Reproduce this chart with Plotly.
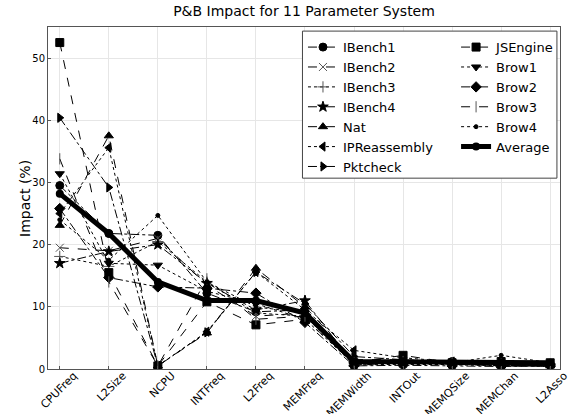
import plotly.graph_objects as go

params = ["CPUFreq", "L2Size", "NCPU", "INTFreq", "L2Freq", "MEMFreq",
          "MEMWidth", "INTOut", "MEMQSize", "MEMChan", "L2Asso"]

ibench1 = [29.5, 21.8, 21.5, 12.2, 9.2, 9.5, 0.8, 1.0, 1.2, 0.8, 0.6]
ibench2 = [19.5, 19.0, 21.0, 13.5, 8.5, 9.0, 0.5, 1.2, 0.8, 0.5, 0.5]
ibench3 = [18.1, 16.5, 20.5, 14.0, 9.0, 8.5, 0.6, 0.8, 0.7, 0.6, 0.4]
ibench4 = [17.0, 18.9, 20.0, 13.8, 9.5, 11.0, 0.7, 1.0, 0.8, 0.7, 0.5]
nat = [23.1, 37.5, 0.5, 5.8, 16.2, 10.0, 1.5, 1.5, 1.0, 0.5, 0.5]
ipreassembly = [25.0, 35.6, 0.5, 6.0, 15.6, 9.5, 3.0, 1.8, 1.2, 0.6, 0.5]
pktcheck = [40.4, 29.2, 0.5, 5.9, 15.6, 10.5, 2.0, 1.5, 1.0, 0.5, 0.5]
jsengine = [52.5, 15.5, 0.5, 10.8, 7.1, 8.0, 1.0, 2.2, 1.0, 1.2, 1.0]
brow1 = [31.4, 17.0, 16.7, 12.5, 10.5, 8.0, 0.8, 0.8, 0.7, 0.6, 0.6]
brow2 = [25.8, 14.7, 13.2, 13.0, 12.2, 7.5, 0.5, 0.6, 0.5, 0.4, 0.5]
brow3 = [33.8, 14.0, 0.5, 14.5, 8.0, 8.5, 1.0, 1.2, 1.0, 0.8, 0.6]
brow4 = [24.0, 17.5, 24.7, 14.0, 10.0, 9.0, 1.0, 1.5, 1.0, 2.2, 1.0]
average = [28.2, 21.8, 14.0, 11.0, 11.0, 9.0, 1.2, 1.1, 1.0, 1.0, 1.0]

# name, values, marker symbol, marker size, dash, legend column
series = [
    ("IBench1", ibench1, "circle", 8, "dashdot", "legend"),
    ("IBench2", ibench2, "x-thin", 8, "dash", "legend"),
    ("IBench3", ibench3, "cross-thin", 8, "dot", "legend"),
    ("IBench4", ibench4, "star", 8, "dashdot", "legend"),
    ("Nat", nat, "triangle-up", 8, "dash", "legend"),
    ("IPReassembly", ipreassembly, "triangle-left", 8, "dot", "legend"),
    ("Pktcheck", pktcheck, "triangle-right", 8, "dashdot", "legend"),
    ("JSEngine", jsengine, "square", 8, "dash", "legend2"),
    ("Brow1", brow1, "triangle-down", 8, "dot", "legend2"),
    ("Brow2", brow2, "diamond", 8, "dashdot", "legend2"),
    ("Brow3", brow3, "line-ns", 8, "dash", "legend2"),
    ("Brow4", brow4, "circle", 4, "dot", "legend2"),
]

fig = go.Figure()
for name, vals, sym, size, dash, leg in series:
    thin = sym.endswith("-thin") or sym.startswith("line")
    fig.add_trace(go.Scatter(
        x=params, y=vals, name=name, mode="lines+markers",
        line=dict(color="black", width=1, dash=dash),
        marker=dict(symbol=sym, size=size, color="black",
                    line=dict(color="#555555" if thin else "black", width=1)),
        legend=leg,
    ))

fig.add_trace(go.Scatter(
    x=params, y=average, name="Average", mode="lines+markers",
    line=dict(color="black", width=5),
    marker=dict(symbol="circle", size=8, color="black"),
    legend="legend2",
))

leg_common = dict(yanchor="top", xanchor="left", bgcolor="rgba(0,0,0,0)",
                  borderwidth=0, font=dict(size=13), itemwidth=30,
                  orientation="v")

fig.update_layout(
    width=568, height=414,
    margin=dict(l=48, r=8, t=27, b=45),
    paper_bgcolor="white", plot_bgcolor="white",
    font=dict(family="DejaVu Sans", color="black"),
    title=dict(text="P&B Impact for 11 Parameter System", x=0.5, xref="paper",
               xanchor="center", y=0.972, yanchor="middle", font=dict(size=14)),
    showlegend=True,
    legend=dict(x=0.498, y=0.985, **leg_common),
    legend2=dict(x=0.797, y=0.985, **leg_common),
    shapes=[dict(type="rect", xref="paper", yref="paper",
                 x0=0.497, x1=0.994, y0=0.558, y1=0.988,
                 fillcolor="white", line=dict(color="#444444", width=1),
                 layer="above")],
    annotations=[dict(text="Impact (%)", xref="paper", yref="paper",
                      x=-0.045, y=0.5, xanchor="center", yanchor="middle",
                      textangle=-90, showarrow=False, font=dict(size=14))],
)
fig.update_xaxes(range=[-0.24, 10.2], showgrid=True, gridcolor="#e6e6e6",
                 showline=True, linecolor="#555555", mirror=True, automargin=False,
                 tickangle=-45, tickfont=dict(size=11), ticks="inside",
                 ticklen=3, tickcolor="#555555", ticklabelshift=14,
                 ticklabelstandoff=-5)
fig.update_yaxes(range=[0, 55], dtick=10, showgrid=True, gridcolor="#e6e6e6",
                 showline=True, linecolor="#555555", mirror=True, zeroline=False,
                 automargin=False,
                 tickfont=dict(size=10), ticks="inside", ticklen=3, tickcolor="#555555")

fig.write_html("out.html", config={"displayModeBar": False},
               post_script="document.body.style.margin='0';document.body.style.padding='0';")
